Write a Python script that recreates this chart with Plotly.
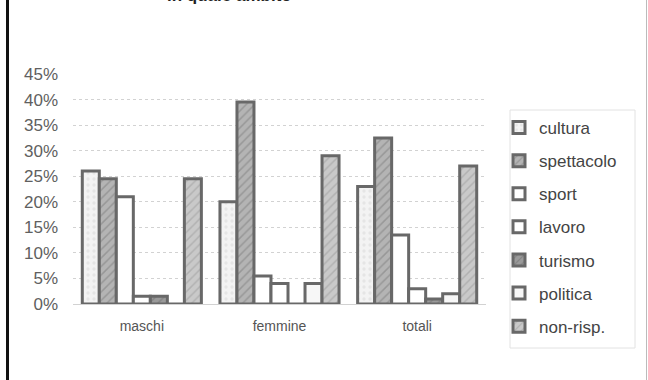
import plotly.graph_objects as go

# Survey answers by group (percent)
categories = ["maschi", "femmine", "totali"]
cultura = [26, 20, 23]
spettacolo = [24.5, 39.5, 32.5]
sport = [21, 5.5, 13.5]
lavoro = [1.5, 4, 3]
turismo = [1.5, 0, 1]
politica = [0, 4, 2]
non_risp = [24.5, 29, 27]

series = [
    ("cultura", cultura, "#f3f3f3", ".", "#d8d8d8"),
    ("spettacolo", spettacolo, "#b4b4b4", "/", "#7a7a7a"),
    ("sport", sport, "#ffffff", "", None),
    ("lavoro", lavoro, "#ffffff", "", None),
    ("turismo", turismo, "#9a9a9a", "/", "#6e6e6e"),
    ("politica", politica, "#f7f7f7", "", None),
    ("non-risp.", non_risp, "#c9c9c9", "/", "#9a9a9a"),
]

W, H = 648, 380
L, R, T, B = 73, 162, 74, 76

fig = go.Figure()
for name, vals, fill, shape, fg in series:
    pattern = dict(shape=shape, fgcolor=fg, size=6, solidity=0.25) if shape else None
    fig.add_trace(go.Bar(
        name=name,
        x=categories,
        y=[v / 100 for v in vals],
        legendgroup=name,
        marker=dict(
            color=fill,
            line=dict(color="#686868", width=3),
            pattern=pattern,
        ),
    ))

pw = W - L - R
ph = H - T - B


def px_x(p):
    return (p - L) / pw


def px_y(p):
    return (H - B - p) / ph


shapes = [
    # page frame
    dict(type="line", xref="paper", yref="paper", x0=px_x(7.5), x1=px_x(7.5),
         y0=px_y(0), y1=px_y(H), line=dict(color="#111111", width=3)),
    dict(type="line", xref="paper", yref="paper", x0=px_x(646.5), x1=px_x(646.5),
         y0=px_y(0), y1=px_y(H), line=dict(color="#bbbbbb", width=1)),
    # legend frame
    dict(type="rect", xref="paper", yref="paper", x0=px_x(510), x1=px_x(635),
         y0=px_y(348), y1=px_y(110), line=dict(color="#e2e2e2", width=1),
         fillcolor="rgba(0,0,0,0)", layer="below"),
]

annotations = [
    dict(text="<b>in quale ambito</b>", xref="paper", yref="paper",
         x=px_x(165), y=px_y(7), xanchor="left", yanchor="bottom",
         showarrow=False, font=dict(size=17, color="#222222",
                                    family="Liberation Sans, Arial")),
]

fig.update_layout(
    width=W, height=H,
    margin=dict(l=L, r=R, t=T, b=B),
    paper_bgcolor="white",
    plot_bgcolor="white",
    barmode="group",
    bargap=0.135,
    bargroupgap=0,
    font=dict(family="Liberation Sans, Arial", size=14, color="#555555"),
    showlegend=True,
    legend=dict(
        x=px_x(499), y=px_y(110), xanchor="left", yanchor="top",
        bgcolor="rgba(0,0,0,0)", borderwidth=0,
        font=dict(size=17, color="#444444"),
        tracegroupgap=8,
        itemwidth=30,
        traceorder="grouped",
        maxheight=360,
    ),
    shapes=shapes,
    annotations=annotations,
    xaxis=dict(
        showline=False, showgrid=False, ticks="",
        ticklabelstandoff=12,
        tickfont=dict(size=14, color="#555555"),
    ),
    yaxis=dict(
        range=[0, 0.45], dtick=0.05, tickformat=".0%",
        showgrid=True, gridcolor="#d2d2d2", griddash="dot", gridwidth=1,
        zeroline=True, zerolinecolor="#d2d2d2", zerolinewidth=1,
        showline=False, ticks="",
        tickfont=dict(size=17, color="#606060"),
        ticklabelstandoff=14,
    ),
)

fig.write_html("out.html")
